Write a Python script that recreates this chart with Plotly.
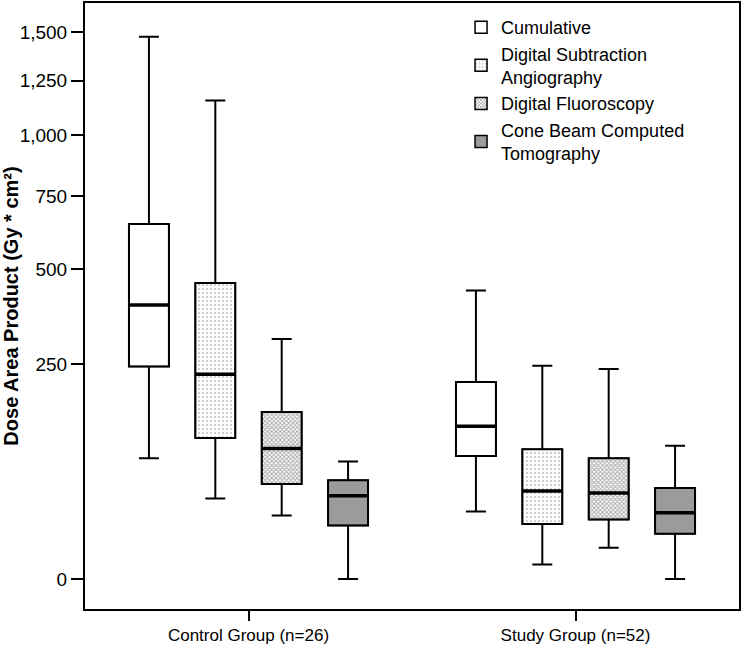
import numpy as np
import plotly.graph_objects as go

# groups on the x axis
groups = ["Control Group (n=26)", "Study Group (n=52)"]

# series (legend order)
series = ["Cumulative", "Digital Subtraction<br>Angiography",
          "Digital Fluoroscopy", "Cone Beam Computed<br>Tomography"]

# box statistics, Gy*cm2, [control, study]
cum_low = [86, 31]
cum_q1 = [244, 89]
cum_med = [395, 132]
cum_q3 = [649, 212]
cum_high = [1475, 436]

dsa_low = [42, 3]
dsa_q1 = [114, 22]
dsa_med = [228, 49]
dsa_q3 = [458, 98]
dsa_high = [1156, 246]

df_low = [28, 9]
df_q1 = [56, 25]
df_med = [99, 47]
df_q3 = [156, 86]
df_high = [307, 239]

cbct_low = [0, 0]
cbct_q1 = [21, 16]
cbct_med = [44.5, 30]
cbct_q3 = [60, 52]
cbct_high = [82, 103]

tick_values = [0, 250, 500, 750, 1000, 1250, 1500]
tick_labels = ["0", "250", "500", "750", "1,000", "1,250", "1,500"]


# the value axis is a (safe) square root scale
def tr(v):
    return np.sqrt(np.asarray(v, dtype=float) + 1) - 1


stats = [
    (cum_low, cum_q1, cum_med, cum_q3, cum_high),
    (dsa_low, dsa_q1, dsa_med, dsa_q3, dsa_high),
    (df_low, df_q1, df_med, df_q3, df_high),
    (cbct_low, cbct_q1, cbct_med, cbct_q3, cbct_high),
]

fills = [
    dict(color="white"),
    dict(color="white", pattern=dict(shape=".", fgcolor="#7a7a7a", size=4, solidity=0.2)),
    dict(color="white", pattern=dict(shape="x", fgcolor="#555555", size=3, solidity=0.55)),
    dict(color="#9b9b9b"),
]

fig = go.Figure()

# patterned fill of the boxes (also gives the legend swatches)
for i, (name, (lo, q1, med, q3, hi), fill) in enumerate(zip(series, stats, fills)):
    base = tr(q1)
    fig.add_trace(go.Bar(
        x=groups, y=tr(q3) - base, base=base, name=name,
        offsetgroup=str(i),
        marker=dict(line=dict(color="black", width=1.5), **fill),
        hoverinfo="skip",
    ))

# box outlines and whiskers
for i, (name, (lo, q1, med, q3, hi)) in enumerate(zip(series, stats)):
    fig.add_trace(go.Box(
        x=groups, lowerfence=tr(lo), q1=tr(q1), median=tr(med),
        q3=tr(q3), upperfence=tr(hi), name=name, showlegend=False,
        offsetgroup=str(i),
        fillcolor="rgba(0,0,0,0)", line=dict(color="black", width=2),
        whiskerwidth=0.5, boxpoints=False,
    ))

# thicker median lines
for i, (name, (lo, q1, med, q3, hi)) in enumerate(zip(series, stats)):
    m = tr(med)
    fig.add_trace(go.Box(
        x=groups, lowerfence=m, q1=m, median=m, q3=m, upperfence=m,
        name=name, showlegend=False, offsetgroup=str(i),
        fillcolor="rgba(0,0,0,0)", line=dict(color="black", width=3.5),
        whiskerwidth=0, boxpoints=False, hoverinfo="skip",
    ))

font = "Liberation Sans, Arial, sans-serif"

fig.update_layout(
    width=742, height=646,
    margin=dict(l=85, r=3, t=3, b=37),
    paper_bgcolor="white", plot_bgcolor="white",
    barmode="group", bargap=0.188, bargroupgap=0.398,
    boxmode="group", boxgap=0.188, boxgroupgap=0.398,
    font=dict(family=font, size=18, color="black"),
    legend=dict(x=0.575, y=0.99, xanchor="left", yanchor="top",
                font=dict(size=18), tracegroupgap=0,
                bgcolor="rgba(0,0,0,0)"),
)

fig.update_xaxes(
    range=[-0.5, 1.5], showline=True, linecolor="black", linewidth=2,
    mirror=True, ticks="outside", ticklen=10, tickwidth=1.5,
    tickcolor="black", tickfont=dict(size=17, family=font), showgrid=False,
    automargin=False,
)
fig.update_yaxes(
    range=[-2.07, 39.74], tickvals=tr(tick_values), ticktext=tick_labels,
    showline=True, linecolor="black", linewidth=2, mirror=True,
    ticks="outside", ticklen=12, tickwidth=1.5, tickcolor="black",
    tickfont=dict(size=19, family=font),
    showgrid=False, zeroline=False, automargin=False,
    title=dict(text="<b>Dose Area Product (Gy * cm²)</b>",
               font=dict(size=20, family=font)),
)

# drop the browser's default body margin so the chart sits at the page corner
fig.write_html("out.html", config={"displayModeBar": False},
               post_script="document.body.style.margin='0';")
